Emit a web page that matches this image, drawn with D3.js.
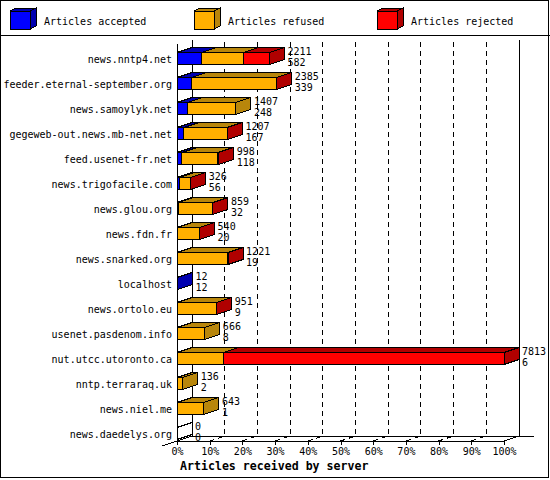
<!DOCTYPE html>
<html lang="en">
<head>
    <meta charset="UTF-8">
    <title>Articles received by server</title>
    <style>
        body { margin: 0; background: #fff; }
        svg { display: block; }
        text { font-family: "DejaVu Sans Mono", "Liberation Mono", monospace; font-size: 10px; fill: #000; }
        .title { font-weight: bold; font-size: 11.6px; }
        .line { stroke: #000; stroke-width: 1px; fill: none; shape-rendering: crispEdges; }
        .grid { stroke: #000; stroke-width: 1px; stroke-dasharray: 5,4; fill: none; shape-rendering: crispEdges; }
        .face { stroke: #000; stroke-width: 1px; shape-rendering: crispEdges; }
    </style>
</head>
<body>
    <div id="chart"></div>
    <script src="https://cdn.jsdelivr.net/npm/d3@7"></script>
    <script>
        // Data
        const hosts = [
          "news.nntp4.net", "feeder.eternal-september.org", "news.samoylyk.net",
          "gegeweb-out.news.mb-net.net", "feed.usenet-fr.net", "news.trigofacile.com",
          "news.glou.org", "news.fdn.fr", "news.snarked.org", "localhost",
          "news.ortolo.eu", "usenet.pasdenom.info", "nut.utcc.utoronto.ca",
          "nntp.terraraq.uk", "news.niel.me", "news.daedelys.org"
        ];
        const accepted = [582, 339, 248, 167, 118, 56, 32, 20, 19, 12, 9, 8, 6, 2, 1, 0];
        const refused  = [1000, 2040, 1159, 1030, 860, 262, 820, 510, 1190, 0, 930, 658, 1100, 134, 642, 0];
        const rejected = [629, 6, 0, 10, 20, 8, 7, 10, 12, 0, 12, 0, 6707, 0, 0, 0];
        const tickValues = [0, 10, 20, 30, 40, 50, 60, 70, 80, 90, 100];

        const series = [
          { name: "Articles accepted", values: accepted, color: "#0000ff", dark: "#0000b0" },
          { name: "Articles refused",  values: refused,  color: "#ffb000", dark: "#b8860b" },
          { name: "Articles rejected", values: rejected, color: "#ff0000", dark: "#b00000" }
        ];
        const totals = hosts.map((h, i) => accepted[i] + refused[i] + rejected[i]);

        const width = 550, height = 480;
        const dx = 15, dy = 5;          // depth offset of the 3D look
        const plotTop = 40, floorY = 441;

        const svg = d3.select("#chart").append("svg")
          .attr("width", width)
          .attr("height", height);

        const x = d3.scaleLinear().domain([0, d3.max(totals)]).range([177, 504]);
        const pct = d3.scaleLinear().domain([0, 100]).range([177, 504]);
        const y = d3.scaleBand().domain(hosts).range([46, 446])
          .paddingInner(0.52).paddingOuter(0.26);

        // frame and legend separator
        svg.append("rect").attr("class", "line")
          .attr("x", 0.5).attr("y", 0.5).attr("width", width - 2).attr("height", height - 3);
        svg.append("line").attr("class", "line")
          .attr("x1", 0).attr("x2", width).attr("y1", 35.5).attr("y2", 35.5);

        function box(g, x0, x1, y0, y1, fill, dark, d) {
          g.append("polygon").attr("class", "face").attr("fill", dark)
            .attr("points", [[x0, y0], [x0 + d.dx, y0 - d.dy], [x1 + d.dx, y0 - d.dy], [x1, y0]].join(" "));
          g.append("polygon").attr("class", "face").attr("fill", dark)
            .attr("points", [[x1, y0], [x1 + d.dx, y0 - d.dy], [x1 + d.dx, y1 - d.dy], [x1, y1]].join(" "));
          g.append("rect").attr("class", "face").attr("fill", fill)
            .attr("x", x0).attr("y", y0).attr("width", x1 - x0).attr("height", y1 - y0);
        }

        // legend
        const legendX = [10, 194, 377];
        const legend = svg.append("g");
        series.forEach((s, i) => {
          box(legend, legendX[i], legendX[i] + 20, 11, 29, s.color, s.dark, { dx: 6, dy: 3 });
          legend.append("text").attr("x", legendX[i] + 34).attr("y", 25).text(s.name);
        });

        // back walls and floor
        const walls = svg.append("g");
        walls.append("line").attr("class", "line")
          .attr("x1", pct(0) + dx).attr("x2", pct(0) + dx).attr("y1", plotTop).attr("y2", floorY - dy);
        walls.append("line").attr("class", "line")
          .attr("x1", pct(100) + dx).attr("x2", pct(100) + dx).attr("y1", plotTop).attr("y2", floorY - dy);
        walls.append("line").attr("class", "line")
          .attr("x1", pct(0) + dx).attr("x2", pct(100) + 2 * dx).attr("y1", floorY - dy).attr("y2", floorY - dy);
        walls.append("line").attr("class", "line")
          .attr("x1", pct(0) - dx).attr("y1", floorY + dy).attr("x2", pct(0) + dx).attr("y2", floorY - dy);
        walls.append("line").attr("class", "line")
          .attr("x1", pct(100)).attr("y1", floorY).attr("x2", pct(100) + dx).attr("y2", floorY - dy);

        // dashed grid: along the floor, then up the back wall
        tickValues.filter(t => t > 0 && t < 100).forEach(t => {
          walls.append("path").attr("class", "grid")
            .attr("d", `M${pct(t)},${floorY} L${pct(t) + dx},${floorY - dy} L${pct(t) + dx},${plotTop}`);
        });

        // front axes
        walls.append("line").attr("class", "line")
          .attr("x1", pct(0)).attr("x2", pct(0)).attr("y1", plotTop + 4).attr("y2", floorY);
        walls.append("line").attr("class", "line")
          .attr("x1", pct(0)).attr("x2", pct(100)).attr("y1", floorY).attr("y2", floorY);

        const xAxis = svg.append("g")
          .attr("transform", `translate(0,${floorY})`)
          .call(d3.axisBottom(pct).tickValues(tickValues).tickFormat(d => d + "%").tickSize(4));
        xAxis.select(".domain").remove();
        xAxis.selectAll("line").attr("class", "line");
        xAxis.selectAll("text").style("font-family", "\"DejaVu Sans Mono\", monospace").style("font-size", "10px");

        svg.append("text").attr("class", "title")
          .attr("x", 180).attr("y", 470)
          .text("Articles received by server");

        // bars
        const bars = svg.append("g");
        hosts.forEach((h, i) => {
          const y0 = y(h), y1 = y(h) + y.bandwidth();
          let start = 0;
          if (totals[i] === 0) {
            bars.append("polygon").attr("class", "face").attr("fill", "none")
              .attr("points", [[x(0), y0], [x(0) + dx, y0 - dy], [x(0) + dx, y1 - dy], [x(0), y1]].join(" "));
          }
          series.forEach(s => {
            const v = s.values[i];
            if (v > 0) {
              box(bars, x(start), x(start + v), y0, y1, s.color, s.dark, { dx: dx, dy: dy });
            }
            start += v;
          });
        });

        // host labels
        svg.append("g").selectAll("text")
          .data(hosts)
          .enter().append("text")
          .attr("x", 172)
          .attr("y", d => y(d) + y.bandwidth() / 2 + 4)
          .attr("text-anchor", "end")
          .text(d => d);

        // value labels: total on top, accepted below
        const values = svg.append("g");
        hosts.forEach((h, i) => {
          const lx = x(totals[i]) + dx + 3;
          const cy = y(h) + y.bandwidth() / 2;
          values.append("text").attr("x", lx).attr("y", cy - 4).text(totals[i]);
          values.append("text").attr("x", lx).attr("y", cy + 7).text(accepted[i]);
        });
    </script>
</body>
</html>
